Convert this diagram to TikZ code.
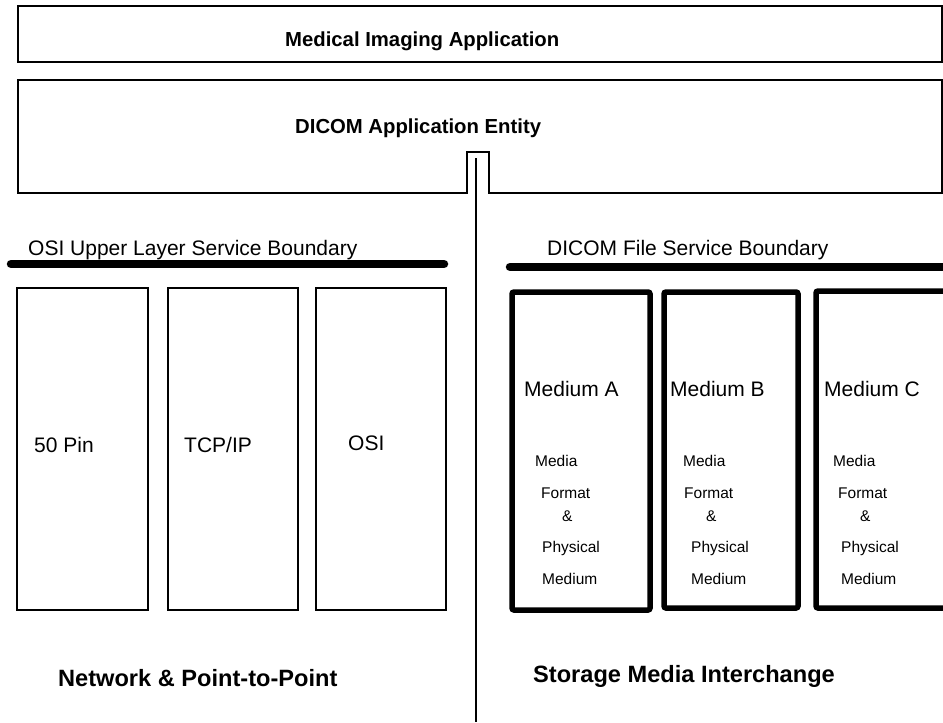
\documentclass[tikz,border=0pt]{standalone}
\usepackage{fontspec}
\setmainfont{Liberation Sans}
\begin{document}
\begin{tikzpicture}[x=1pt,y=-1pt,
  lbl/.style={inner sep=0pt,anchor=base west,font=\fontsize{21}{24}\selectfont},
  title/.style={inner sep=0pt,anchor=base west,font=\bfseries\fontsize{20.3}{24}\selectfont},
  big/.style={inner sep=0pt,anchor=base west,font=\bfseries\fontsize{23.6}{27}\selectfont},
  small/.style={inner sep=0pt,anchor=base west,font=\fontsize{15.5}{18}\selectfont},
  thinbox/.style={draw,line width=2pt},
  medbox/.style={draw,line width=5.5pt,rounded corners=2pt},
  boundary/.style={draw,line width=8.5pt,line cap=round},
  conn/.style={draw,line width=2pt}]
\useasboundingbox (0,0) rectangle (943,723);
% top boxes
\draw[thinbox] (18,6) rectangle (942,62);
\node[title] (mia) at (285,46) {Medical Imaging Application};
\draw[thinbox] (18,80) -- (942,80) -- (942,193) -- (489,193) -- (489,152) -- (467,152) -- (467,193) -- (18,193) -- cycle;
\node[title] (dae) at (295,133) {DICOM Application Entity};
% connector
\coordinate (ctop) at (476,158);
\coordinate (cbot) at (476,722);
\draw[conn] (ctop) -- (cbot);
% boundaries
\coordinate (osil) at (11,264);
\coordinate (osir) at (444,264);
\draw[boundary] (osil) -- (osir);
\node[lbl] (osilbl) at (28,255) {OSI Upper Layer Service Boundary};
\coordinate (dfsl) at (510,267);
\coordinate (dfsr) at (960,267);
\draw[boundary] (dfsl) -- (dfsr);
\node[lbl] (dfslbl) at (547,255) {DICOM File Service Boundary};
% network boxes
\draw[thinbox] (17,288) rectangle (148,610);
\draw[thinbox] (168,288) rectangle (298,610);
\draw[thinbox] (316,288) rectangle (446,610);
\node[lbl] (pin) at (34,452) {50 Pin};
\node[lbl] (tcp) at (184,452) {TCP/IP};
\node[lbl] (osi) at (348,450) {OSI};
% media boxes
\draw[medbox] (512,292) rectangle (650,610);
\draw[medbox] (664,292) rectangle (798,608);
\begin{scope}
\clip (0,0) rectangle (943,723);
\draw[medbox] (816,291) rectangle (960,608);
\end{scope}
\node[lbl] (ma) at (524,396) {Medium A};
\node[lbl] (mb) at (670,396) {Medium B};
\node[lbl] (mc) at (824,396) {Medium C};
\foreach \n/\xa/\xb/\xc/\xd/\xe in {a/535/541/562/542/542, b/683/684/706/691/691, c/833/838/860/841/841}{
  \node[small] (media\n) at (\xa,466) {Media};
  \node[small] (format\n) at (\xb,498) {Format};
  \node[small] (amp\n) at (\xc,521) {\&};
  \node[small] (phys\n) at (\xd,552) {Physical};
  \node[small] (medium\n) at (\xe,584) {Medium};
}
\node[big] (net) at (58,686) {Network \& Point-to-Point};
\node[big] (sto) at (533,682) {Storage Media Interchange};
\end{tikzpicture}
\end{document}
